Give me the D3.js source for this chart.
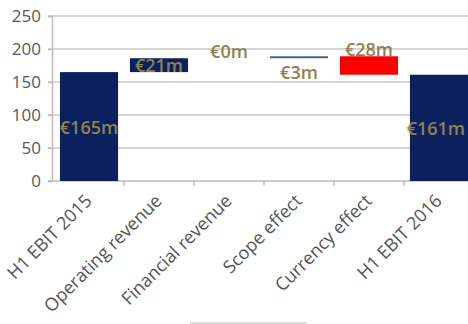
<!DOCTYPE html>
<html>
<head>
<meta charset="utf-8">
<script src="https://cdn.jsdelivr.net/npm/d3@7/dist/d3.min.js"></script>
<style>
	body { margin: 0; background: #fff; }
	svg { display: block; }
	.tick text { fill: #595959; }
</style>
</head>
<body>
<svg id="chart" width="468" height="324"></svg>
<script>
var categories = ["H1 EBIT 2015", "Operating revenue", "Financial revenue", "Scope effect", "Currency effect", "H1 EBIT 2016"];
var deltas = [165, 21, 0, 3, -28, 161];
var isTotal = [true, false, false, false, false, true];
var labels = ["€165m", "€21m", "€0m", "€3m", "€28m", "€161m"];
var labelPlace = ["middle", "middle", "above", "below", "above", "middle"];
var yTicks = [0, 50, 100, 150, 200, 250];

(function() {
	"use strict";

	var width = 468,
		svg = d3.select("#chart"),
		navy = "#0b215e",
		labelColor = "#8f8150",
		gridColor = "#c8c8c8",
		font = "'Open Sans', 'Liberation Sans', sans-serif",
		rows = [],
		run = 0;

	// running totals for the waterfall
	categories.forEach(function(c, i) {
		var start, end;
		if (isTotal[i]) {
			start = 0;
			end = deltas[i];
		} else {
			start = run;
			end = run + deltas[i];
		}
		run = end;
		rows.push({ name: c, start: start, end: end, delta: deltas[i], total: isTotal[i], i: i });
	});

	var x = d3.scaleBand().domain(categories).range([54, 474]).paddingInner(0.17).paddingOuter(0.085),
		y = d3.scaleLinear().domain([0, 250]).range([181, 16]);

	// grid lines
	svg.append("g")
		.selectAll("line")
		.data(yTicks.slice(1))
		.enter().append("line")
		.attr("x1", 48).attr("x2", width)
		.attr("y1", function(d) { return y(d); })
		.attr("y2", function(d) { return y(d); })
		.attr("stroke", gridColor)
		.attr("stroke-width", 1.5);

	// y axis
	var yAxis = svg.append("g")
		.attr("transform", "translate(52,0)")
		.call(d3.axisLeft(y).tickValues(yTicks).tickSize(4).tickPadding(7));
	yAxis.selectAll("text").style("font-family", font).style("font-size", "17px");
	yAxis.selectAll("line, path").attr("stroke", "#bcbcbc").attr("stroke-width", 1.5);

	// x axis: tick marks at category boundaries
	var xAxisG = svg.append("g");
	xAxisG.append("line")
		.attr("x1", 48).attr("x2", width)
		.attr("y1", y(0)).attr("y2", y(0))
		.attr("stroke", "#bcbcbc").attr("stroke-width", 1.5);
	xAxisG.selectAll("line.bound")
		.data(categories.slice(1))
		.enter().append("line")
		.classed("bound", true)
		.attr("x1", function(d) { return x(d) - x.step() * x.paddingInner() / 2; })
		.attr("x2", function(d) { return x(d) - x.step() * x.paddingInner() / 2; })
		.attr("y1", y(0)).attr("y2", y(0) + 5)
		.attr("stroke", "#bcbcbc").attr("stroke-width", 1.5);

	xAxisG.selectAll("text")
		.data(categories)
		.enter().append("text")
		.attr("transform", function(d) {
			return "translate(" + (x(d) + x.bandwidth() / 2 + 4) + "," + (y(0) + 21) + ") rotate(-45)";
		})
		.attr("text-anchor", "end")
		.attr("fill", "#555")
		.style("font-family", font)
		.style("font-size", "18px")
		.text(function(d) { return d; });

	// bars
	svg.append("g")
		.selectAll("rect")
		.data(rows.filter(function(d) { return d.delta !== 0; }))
		.enter().append("rect")
		.attr("x", function(d) { return x(d.name); })
		.attr("width", x.bandwidth())
		.attr("y", function(d) { return y(Math.max(d.start, d.end)); })
		.attr("height", function(d) { return Math.abs(y(d.start) - y(d.end)); })
		.attr("fill", function(d) {
			if (d.delta < 0) return "#ff0000";
			if (Math.abs(d.delta) < 5) return "#4d5c94";
			return navy;
		});

	// value labels
	var valueText = svg.append("g")
		.selectAll("text")
		.data(rows)
		.enter().append("text")
		.attr("x", function(d) { return x(d.name) + x.bandwidth() / 2; })
		.attr("y", function(d) {
			var top = y(Math.max(d.start, d.end)),
				bottom = y(Math.min(d.start, d.end));
			if (labelPlace[d.i] === "above") return top - 7;
			if (labelPlace[d.i] === "below") return bottom + 14;
			return (top + bottom) / 2 + 1;
		})
		.attr("dy", "0.35em")
		.attr("text-anchor", "middle")
		.attr("fill", labelColor)
		.style("font-family", font)
		.style("font-size", "18px")
		.style("font-weight", "600")
		.text(function(d) { return labels[d.i]; });

	// keep labels inside the picture
	valueText.each(function() {
		var node = d3.select(this),
			w = this.getComputedTextLength(),
			cx = +node.attr("x");
		if (cx + w / 2 > width - 3) node.attr("x", width - 3 - w / 2);
	});

	// faint line at the bottom (legend remnant)
	svg.append("line")
		.attr("x1", 190).attr("x2", 307)
		.attr("y1", 323).attr("y2", 323)
		.attr("stroke", "#d0d0d0").attr("stroke-width", 1.5);
})();
</script>
</body>
</html>
